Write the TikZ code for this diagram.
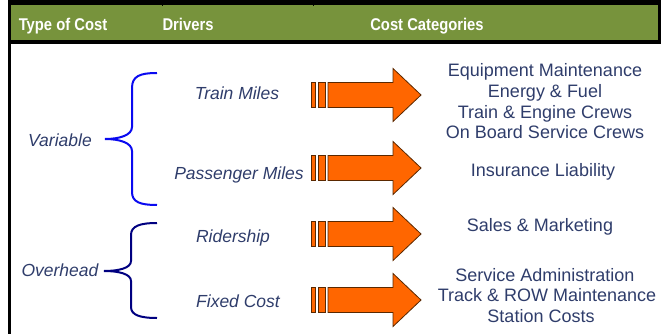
\documentclass[tikz,border=0pt]{standalone}
\usepackage{fontspec}
\setmainfont{Liberation Sans}
\newfontfamily\hdrfont[FakeStretch=0.87]{Liberation Sans}
\definecolor{hdr}{HTML}{77933C}
\definecolor{txt}{HTML}{2F3D6B}
\definecolor{arr}{HTML}{FF6600}
\definecolor{arrline}{HTML}{5A2800}
\definecolor{bblue}{HTML}{0A0AF0}
\definecolor{bnavy}{HTML}{000080}
\begin{document}
\begin{tikzpicture}[x=1pt,y=-1pt,
  hdrtxt/.style={text=white,font=\hdrfont\fontsize{17}{20}\selectfont\bfseries,anchor=base,inner sep=0pt},
  drv/.style={text=txt,font=\fontsize{17.5}{20}\selectfont\itshape,anchor=base,inner sep=0pt},
  cat/.style={text=txt,font=\fontsize{18}{20.5}\selectfont,anchor=base,inner sep=0pt},
  arrowshape/.style={fill=arr,draw=arrline,line width=0.8pt,line join=miter},
  bracestyle/.style={line width=2pt}]
\useasboundingbox (0,0) rectangle (663,334);
% header
\fill[hdr] (11,5) rectangle (658,40);
\fill[black] (8,0) rectangle (661,5);
\fill[black] (8,40) rectangle (661,44);
\fill[black] (8,0) rectangle (11,334);
\fill[black] (658,0) rectangle (661,44);
\draw[black,line width=1pt] (162,0) -- (162,6);
\draw[black,line width=1pt] (313,0) -- (313,6);
\node[hdrtxt] (h1) at (63,31) {Type of Cost};
\node[hdrtxt] (h2) at (188,31) {Drivers};
\node[hdrtxt] (h3) at (427,31) {Cost Categories};
% type of cost
\node[drv] (var) at (60,146) {Variable};
\node[drv] (ovh) at (60,276) {Overhead};
% drivers
\node[drv] (d1) at (237,99.3) {Train Miles};
\node[drv] (d2) at (239,179) {Passenger Miles};
\node[drv] (d3) at (233,242) {Ridership};
\node[drv] (d4) at (238,307) {Fixed Cost};
% braces
\draw[bblue,bracestyle] (157,73) .. controls (140,73) and (132,76) .. (132,88) -- (132,127)
  .. controls (132,135) and (120,139) .. (105,139)
  .. controls (120,139) and (132,143) .. (132,151) -- (132,192)
  .. controls (132,202) and (140,205) .. (157,205);
\draw[bnavy,bracestyle] (157,223) .. controls (140,223) and (131,226) .. (131,235) -- (131,261)
  .. controls (131,268) and (119,271) .. (104,271)
  .. controls (119,271) and (131,274) .. (131,281) -- (131,307)
  .. controls (131,315) and (140,318) .. (157,318);
% arrows
\foreach \y in {95,168,234,300} {
  \filldraw[arrowshape] (311,\y-12.5) rectangle (315,\y+12.5);
  \filldraw[arrowshape] (318,\y-12.5) rectangle (325,\y+12.5);
  \filldraw[arrowshape] (328,\y-12.5) -- (393,\y-12.5) -- (393,\y-26.5) -- (421,\y)
     -- (393,\y+26.5) -- (393,\y+12.5) -- (328,\y+12.5) -- cycle;
}
% categories
\node[cat] (c1) at (545,77) {Equipment Maintenance};
\node[cat] (c2) at (545,97.5) {Energy \& Fuel};
\node[cat] (c3) at (545,118) {Train \& Engine Crews};
\node[cat] (c4) at (545,138.5) {On Board Service Crews};
\node[cat] (c5) at (543,176) {Insurance Liability};
\node[cat] (c6) at (540,231) {Sales \& Marketing};
\node[cat] (c7) at (545,281) {Service Administration};
\node[cat] (c8) at (547,301.5) {Track \& ROW Maintenance};
\node[cat] (c9) at (541,322) {Station Costs};
\end{tikzpicture}
\end{document}
